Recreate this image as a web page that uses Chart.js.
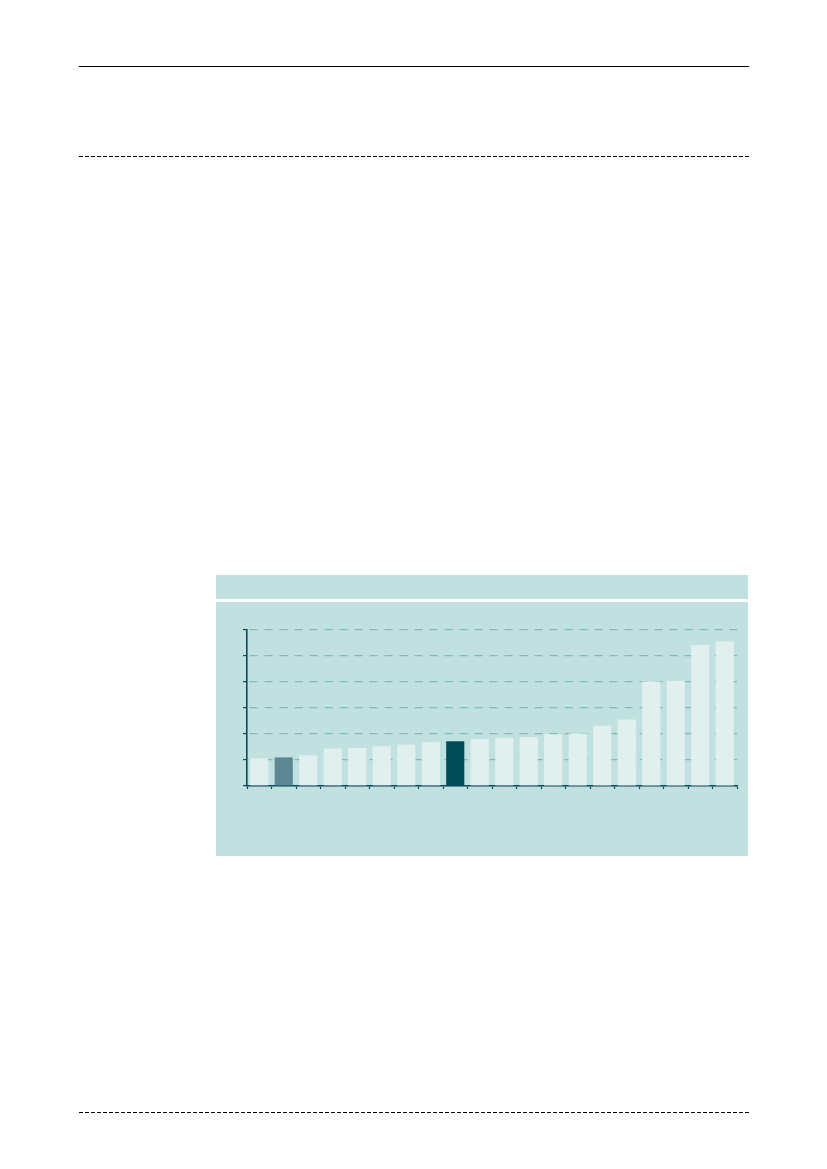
<!DOCTYPE html>
<html>
<head>
<meta charset="utf-8">
<script src="https://cdn.jsdelivr.net/npm/chart.js@4/dist/chart.umd.min.js"></script>
<style>
  html, body { margin: 0; padding: 0; background: #fff; }
  body { width: 827px; height: 1169px; position: relative; overflow: hidden; }
  .rule { position: absolute; left: 79px; width: 670px; height: 1px; background: #000; }
  .dash { background: repeating-linear-gradient(to right, #000 0 4px, transparent 4px 6px); }
  #panel { position: absolute; left: 216px; top: 575px; width: 532px; height: 281px; background: #c0e1df; }
  #panelHead { position: absolute; left: 0; top: 24px; width: 532px; height: 3px; background: #fff; }
  #chartBox { position: absolute; left: 0; top: 27px; width: 532px; height: 254px; }
</style>
</head>
<body>
<div class="rule" style="top:66px"></div>
<div class="rule dash" style="top:156px"></div>
<div class="rule dash" style="top:1112px"></div>

<div id="panel">
  <div id="panelHead"></div>
  <div id="chartBox"><canvas id="barChart"></canvas></div>
</div>

<script>
// datos (sin etiquetas visibles)
const categorias = ['1','2','3','4','5','6','7','8','9','10','11','12','13','14','15','16','17','18','19','20'];
const valores = [1.06, 1.10, 1.18, 1.44, 1.46, 1.53, 1.59, 1.68, 1.72, 1.80, 1.85, 1.88, 1.99, 2.02, 2.32, 2.56, 4.02, 4.04, 5.42, 5.56];
const destacados = { 1: '#5e8794', 8: '#004b5a' };
const yTicks = [0, 1, 2, 3, 4, 5, 6];

const colores = valores.map((v, i) => destacados[i] || '#e1f0ef');

const ctx = document.getElementById('barChart').getContext('2d');
new Chart(ctx, {
    type: 'bar',
    data: {
        labels: categorias,
        datasets: [{
            data: valores,
            backgroundColor: colores,
            borderWidth: 0,
            categoryPercentage: 1,
            barPercentage: 0.74
        }]
    },
    options: {
        responsive: true,
        maintainAspectRatio: false,
        animation: false,
        layout: { padding: { left: 27, top: 28, right: 11, bottom: 67 } },
        plugins: { legend: { display: false }, tooltip: { enabled: false } },
        scales: {
            x: {
                ticks: { display: false },
                grid: {
                    offset: true,
                    drawOnChartArea: false,
                    tickLength: 3,
                    tickColor: '#0b4a5a',
                    tickWidth: 1.2
                },
                border: { color: '#0b4a5a', width: 1.6 }
            },
            y: {
                min: yTicks[0],
                max: yTicks[yTicks.length - 1],
                afterBuildTicks: (scale) => { scale.ticks = yTicks.map(v => ({ value: v })); },
                ticks: { display: false },
                grid: {
                    color: '#7bbdb5',
                    lineWidth: 1.2,
                    tickLength: 4,
                    tickColor: '#0b4a5a',
                    tickWidth: 1.2
                },
                border: { color: '#0b4a5a', width: 1.6, dash: [8, 7], dashOffset: -2 }
            }
        }
    }
});
</script>
</body>
</html>
